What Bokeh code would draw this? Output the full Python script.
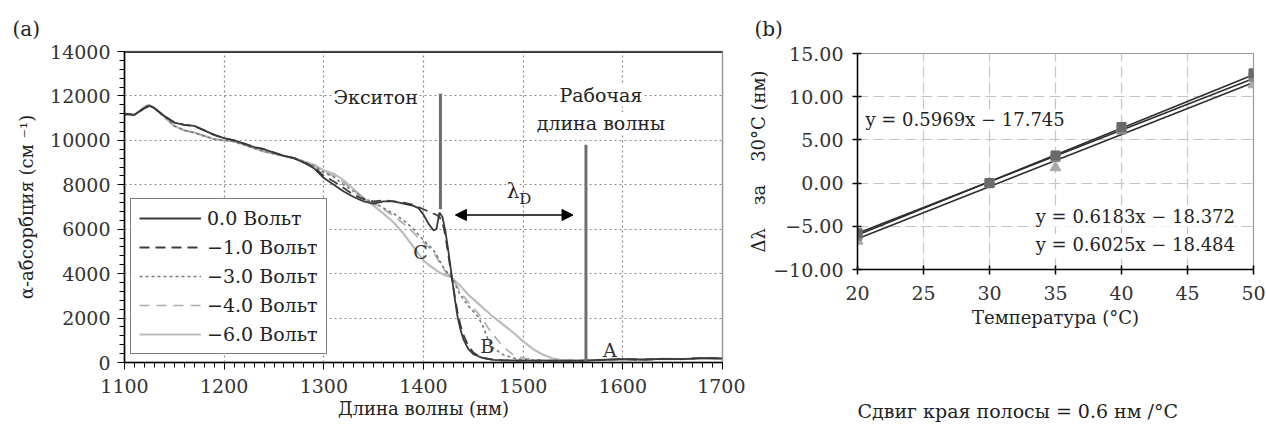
from bokeh.plotting import figure
from bokeh.models import (Range1d, Span, Label, Legend, LegendItem, Arrow, NormalHead, Title,
                          SingleIntervalTicker, FixedTicker, CustomJSTickFormatter)
from bokeh.embed import file_html
from bokeh.resources import INLINE
from bokeh.core.templates import get_env

FONT = "DejaVu Serif"

# ---------------- Panel (a) data ----------------
wavelength = [1100, 1110, 1120, 1125, 1130, 1140, 1150, 1160, 1170, 1180, 1190, 1200, 1210, 1220,
              1230, 1240, 1250, 1260, 1270, 1280, 1290, 1300, 1310, 1320, 1330, 1340, 1350, 1360,
              1370, 1380, 1390, 1395, 1400, 1405, 1410, 1413, 1416, 1419, 1422, 1425, 1428, 1431,
              1434, 1437, 1440, 1445, 1450, 1455, 1460, 1465, 1470, 1480, 1490, 1500, 1510, 1520,
              1530, 1540, 1550, 1560, 1580, 1600, 1620, 1640, 1660, 1680, 1700]

abs_0v = [11200, 11150, 11450, 11550, 11450, 11100, 10800, 10700, 10650, 10450, 10250, 10100, 10000, 9850,
          9700, 9600, 9450, 9300, 9200, 9000, 8750, 8300, 8000, 7700, 7450, 7250, 7150, 7250,
          7250, 7150, 7050, 6950, 6650, 6250, 5950, 6000, 6750, 6550, 5900, 5000, 4000, 3000,
          2100, 1500, 1050, 600, 380, 280, 200, 150, 120, 100, 90, 80, 80, 80,
          80, 80, 80, 80, 120, 150, 130, 160, 150, 200, 180]

abs_1v = [11200, 11150, 11450, 11550, 11450, 11100, 10800, 10700, 10650, 10450, 10250, 10100, 10000, 9850,
          9700, 9600, 9450, 9300, 9200, 9000, 8800, 8400, 8150, 7850, 7550, 7350, 7250, 7300,
          7250, 7200, 7100, 7000, 6900, 6800, 6700, 6650, 6550, 6300, 5700, 4800, 3950, 3100,
          2300, 1700, 1250, 750, 450, 300, 220, 160, 130, 100, 90, 80, 80, 80,
          80, 80, 80, 80, 120, 150, 130, 160, 150, 200, 180]

abs_3v = [11150, 11150, 11500, 11600, 11450, 11050, 10650, 10450, 10350, 10200, 10050, 10000, 9950, 9800,
          9650, 9500, 9400, 9300, 9200, 9050, 8850, 8550, 8350, 8000, 7700, 7400, 7200, 6950,
          6700, 6400, 6000, 5750, 5500, 5300, 5050, 4850, 4600, 4350, 4150, 4000, 3850, 3600,
          3300, 3050, 2850, 2550, 2300, 2050, 1600, 1000, 650, 350, 200, 130, 100, 90,
          80, 80, 80, 80, 120, 150, 130, 160, 150, 200, 180]

abs_4v = [11150, 11150, 11500, 11600, 11450, 11050, 10650, 10450, 10350, 10200, 10050, 10000, 9950, 9800,
          9650, 9500, 9400, 9300, 9200, 9050, 8880, 8600, 8400, 8100, 7750, 7400, 7150, 6900,
          6600, 6250, 5850, 5600, 5400, 5200, 4950, 4750, 4500, 4300, 4100, 3950, 3850, 3650,
          3400, 3200, 3000, 2700, 2450, 2200, 1900, 1550, 1250, 700, 350, 200, 130, 100,
          80, 80, 80, 80, 120, 150, 130, 160, 150, 200, 180]

abs_6v = [11150, 11150, 11500, 11600, 11450, 11050, 10650, 10450, 10350, 10200, 10050, 10000, 9950, 9800,
          9650, 9500, 9400, 9300, 9200, 9050, 8900, 8650, 8500, 8200, 7800, 7400, 7050, 6700,
          6300, 5800, 5200, 4900, 4600, 4400, 4250, 4150, 4050, 3980, 3920, 3880, 3830, 3700,
          3580, 3450, 3300, 3050, 2850, 2650, 2450, 2250, 2050, 1700, 1350, 950, 600, 350,
          180, 100, 80, 80, 120, 150, 130, 160, 150, 200, 180]

series_labels = ["0.0 Вольт", "\u22121.0 Вольт", "\u22123.0 Вольт", "\u22124.0 Вольт", "\u22126.0 Вольт"]

exciton_wl = 1417
exciton_top, exciton_bottom = 12100, 6900
operating_wl = 1563
operating_top = 9800
lambda_d_start, lambda_d_end, lambda_d_y = 1432, 1550, 6640

# ---------------- Panel (b) data ----------------
temps = [20, 30, 35, 40, 50]
shift_sq_dark = [-5.8, 0.0, 3.2, 6.5, 12.7]
shift_sq_mid = [-6.1, 0.0, 3.0, 6.2, 12.3]
shift_tri = [-6.7, 0.0, 1.8, 6.3, 11.4]
fit_slopes = [0.5969, 0.6183, 0.6025]
fit_intercepts = [-17.745, -18.372, -18.484]
fit_texts = ["y = 0.5969x \u2212 17.745", "y = 0.6183x \u2212 18.372", "y = 0.6025x \u2212 18.484"]

TICK_SIZE = "19px"
TEXT_SIZE = "19px"

# ================= Panel (a) =================
pa = figure(width=745, height=432, x_range=Range1d(1100, 1700), y_range=Range1d(0, 14000),
            output_backend="svg", toolbar_location=None,
            min_border_left=124, min_border_right=23, min_border_top=51, min_border_bottom=70)
pa.background_fill_color = "white"
pa.border_fill_color = "white"
pa.outline_line_color = "#9a9a9a"
pa.outline_line_width = 1.5

pa.xaxis.ticker = SingleIntervalTicker(interval=100, num_minor_ticks=10)
pa.yaxis.ticker = SingleIntervalTicker(interval=2000, num_minor_ticks=5)
pa.xgrid.ticker = FixedTicker(ticks=[1200, 1300, 1400, 1500, 1600])
pa.ygrid.ticker = FixedTicker(ticks=[2000, 4000, 6000, 8000, 10000, 12000])
for g in (pa.xgrid, pa.ygrid):
    g.grid_line_color = "#8a8a8a"
    g.grid_line_dash = "2 3"
    g.grid_line_width = 1.2

for ax in (pa.xaxis, pa.yaxis):
    ax.axis_line_color = "black"
    ax.axis_line_width = 1.5
    ax.major_tick_line_color = "black"
    ax.minor_tick_line_color = "black"
    ax.major_tick_in = 0
    ax.major_tick_out = 7
    ax.minor_tick_in = 0
    ax.minor_tick_out = 5
    ax.major_label_text_font = FONT
    ax.major_label_text_font_size = TICK_SIZE
    ax.major_label_text_color = "#333333"
    ax.axis_label_text_font = FONT
    ax.axis_label_text_font_size = "18px"
    ax.axis_label_text_font_style = "normal"
    ax.axis_label_text_color = "#222222"
pa.xaxis.major_label_standoff = 9
pa.yaxis.major_label_standoff = 7
pa.xaxis.axis_label = "Длина волны (нм)"
pa.yaxis.axis_label = "α-абсорбция (см \u207b\u00b9)"
pa.xaxis.axis_label_standoff = 2
pa.yaxis.axis_label_standoff = 10

pa.add_layout(Span(location=14000, dimension="width", line_color="black", line_width=2.5))

styles = [
    dict(line_color="#3a3a3a", line_width=1.8, line_dash="solid"),
    dict(line_color="#3f3f3f", line_width=1.8, line_dash="10 6"),
    dict(line_color="#7a7a7a", line_width=1.6, line_dash="3 3"),
    dict(line_color="#ababab", line_width=1.6, line_dash="10 7"),
    dict(line_color="#bdbdbd", line_width=2.2, line_dash="solid"),
]
series = [abs_0v, abs_1v, abs_3v, abs_4v, abs_6v]
renderers = []
for vals, st in zip(series[::-1], styles[::-1]):
    renderers.append(pa.line(wavelength, vals, **st))
renderers = renderers[::-1]

# vertical markers
pa.segment(x0=[exciton_wl], y0=[exciton_bottom], x1=[exciton_wl], y1=[exciton_top],
           line_color="#6e6e6e", line_width=3)
pa.segment(x0=[operating_wl], y0=[0], x1=[operating_wl], y1=[operating_top],
           line_color="#6e6e6e", line_width=3)

pa.add_layout(Arrow(start=NormalHead(size=11, fill_color="black", line_color="black"),
                    end=NormalHead(size=11, fill_color="black", line_color="black"),
                    x_start=lambda_d_start, y_start=lambda_d_y, x_end=lambda_d_end, y_end=lambda_d_y,
                    line_color="black", line_width=1.5))


def lab(p, x, y, text, size=TEXT_SIZE, align="center", bg=True, color="#222222"):
    p.add_layout(Label(x=x, y=y, text=text, text_align=align, text_baseline="middle",
                       text_font=FONT, text_font_size=size, text_color=color,
                       background_fill_color="white" if bg else None,
                       background_fill_alpha=1.0 if bg else 0.0))


lab(pa, 1352, 11940, "Экситон")
lab(pa, 1578, 12020, "Рабочая")
lab(pa, 1578, 10770, "длина волны")
lab(pa, 1490, 7740, "λ", size="20px")
lab(pa, 1502, 7380, "D", size="15px", bg=False)
lab(pa, 1397, 4970, "C", bg=False, color="#333333")
lab(pa, 1464, 760, "B", bg=False, color="#333333")
lab(pa, 1587, 580, "A", bg=False, color="#333333")


def panel_tag(p, text, offset, standoff, place="above", size="19px"):
    p.add_layout(Title(text=text, align="left", offset=offset, standoff=standoff,
                       text_font=FONT, text_font_size=size, text_font_style="normal",
                       text_color="#222222"), place)


panel_tag(pa, "(a)", -112, 21, size="20px")

legend = Legend(items=[LegendItem(label=l, renderers=[r]) for l, r in zip(series_labels, renderers)],
                location=(6, 8))
legend.border_line_color = "black"
legend.border_line_width = 1.5
legend.background_fill_color = "white"
legend.background_fill_alpha = 1.0
legend.label_text_font = FONT
legend.label_text_font_size = "19px"
legend.label_text_color = "#222222"
legend.glyph_width = 62
legend.glyph_height = 20
legend.label_height = 21
legend.spacing = 7
legend.padding = 8
legend.margin = 0
legend.label_standoff = 6
pa.add_layout(legend)

# ================= Panel (b) =================
pb = figure(width=521, height=432, x_range=Range1d(20, 50), y_range=Range1d(-10, 15),
            output_backend="svg", toolbar_location=None,
            min_border_left=110, min_border_right=13, min_border_top=53, min_border_bottom=163)
pb.background_fill_color = "white"
pb.border_fill_color = "white"
pb.outline_line_color = "#9a9a9a"
pb.outline_line_width = 1.2

pb.xaxis.ticker = SingleIntervalTicker(interval=5, num_minor_ticks=0)
pb.yaxis.ticker = SingleIntervalTicker(interval=5, num_minor_ticks=0)
pb.xgrid.ticker = FixedTicker(ticks=[25, 30, 35, 40, 45])
pb.ygrid.ticker = FixedTicker(ticks=[-5, 0, 5, 10])
for g in (pb.xgrid, pb.ygrid):
    g.grid_line_color = "#c4c4c4"
    g.grid_line_dash = "11 5"
    g.grid_line_width = 1.2
for ax in (pb.xaxis, pb.yaxis):
    ax.axis_line_color = "black"
    ax.axis_line_width = 1.5
    ax.major_tick_line_color = "black"
    ax.major_tick_line_width = 1.5
    ax.major_tick_in = 4
    ax.major_tick_out = 5
    ax.major_label_text_font = FONT
    ax.major_label_text_font_size = TICK_SIZE
    ax.major_label_text_color = "#333333"
    ax.axis_label_text_font = FONT
    ax.axis_label_text_font_size = "18px"
    ax.axis_label_text_font_style = "normal"
    ax.axis_label_text_color = "#222222"
pb.yaxis.formatter = CustomJSTickFormatter(
    code="return (tick < 0 ? '\\u2212' : '') + Math.abs(tick).toFixed(2);")
pb.xaxis.major_label_standoff = 11
pb.yaxis.major_label_standoff = 9
pb.xaxis.axis_label = "Температура (°C)"
pb.yaxis.axis_label = "Δλ\u00a0\u00a0\u00a0\u00a0за\u00a0\u00a0\u00a0\u00a030°C (нм)"
pb.xaxis.axis_label_standoff = 4
pb.yaxis.axis_label_standoff = 1

fit_x = [temps[0], temps[-1]]
for s, b in zip(fit_slopes, fit_intercepts):
    pb.line(fit_x, [s * fit_x[0] + b, s * fit_x[1] + b], line_color="#2e2e2e", line_width=1.6)
pb.scatter(temps, shift_tri, marker="triangle", size=11, fill_color="#a9a9a9", line_color="#a9a9a9")
pb.scatter(temps, shift_sq_mid, marker="square", size=9, fill_color="#8a8a8a", line_color="#8a8a8a")
pb.scatter(temps, shift_sq_dark, marker="square", size=9, fill_color="#6a6a6a", line_color="#6a6a6a")

lab(pb, 20.6, 7.36, fit_texts[0], size="18px", align="left")
lab(pb, 48.6, -3.85, fit_texts[1], size="18px", align="right")
lab(pb, 48.6, -7.08, fit_texts[2], size="18px", align="right")
panel_tag(pb, "(b)", -103, 26, size="20px")
# blank spacer below the x axis, then the caption
pb.add_layout(Title(text="\u00a0", text_font_size="30px", standoff=30, text_font=FONT), "below")
panel_tag(pb, "Сдвиг края полосы = 0.6 нм /°C", 0, 0, place="below")

# two independent roots placed side by side (no frame alignment between the panels)
template = get_env().from_string(
    "{% extends 'file.html' %}"
    "{% block postamble %}<style>html, body { display: flex !important; flex-direction: row; "
    "align-items: flex-start; margin: 0; padding: 0; }</style>{% endblock %}"
)
open("out.html", "w").write(file_html([pa, pb], INLINE, template=template))
